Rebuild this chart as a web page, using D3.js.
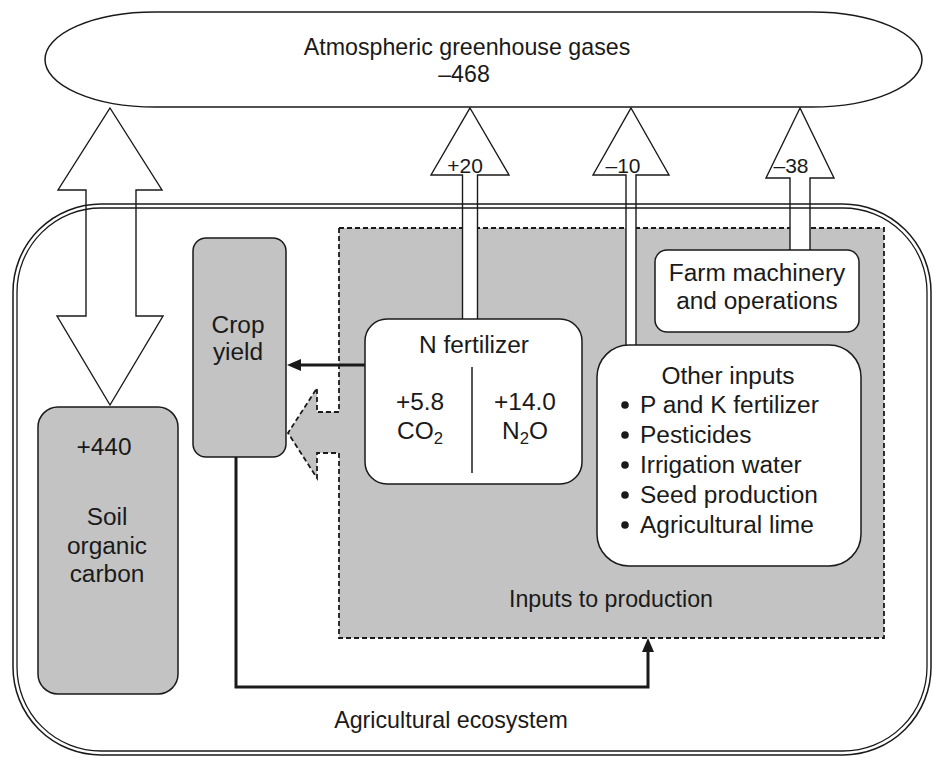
<!DOCTYPE html>
<html>
<head>
<meta charset="utf-8">
<script src="https://cdn.jsdelivr.net/npm/d3@7"></script>
<style>
  body { margin: 0; background: #fff; }
  text { font-family: "Liberation Sans", Arial, sans-serif; fill: #1a1a1a; }
</style>
</head>
<body>
<div id="graph"></div>
<script>
// text / values of the diagram
var atmosphereText = ["Atmospheric greenhouse gases", "–468"]
var fluxLabels = ["+20", "–10", "–38"]          // N fertilizer, other inputs, machinery
var soilText = ["+440", "Soil", "organic", "carbon"]
var cropText = ["Crop", "yield"]
var nFertTitle = "N fertilizer"
var nFertValues = ["+5.8", "+14.0"]
var nFertGases = [["CO", "2", ""], ["N", "2", "O"]]
var machineryText = ["Farm machinery", "and operations"]
var otherTitle = "Other inputs"
var otherInputs = ["P and K fertilizer", "Pesticides", "Irrigation water", "Seed production", "Agricultural lime"]
var inputsLabel = "Inputs to production"
var ecosystemLabel = "Agricultural ecosystem"

var w = 934, h = 758
var grey = "#c3c3c3", ink = "#1a1a1a"

var svg = d3.select('#graph')
  .append('svg')
  .attr("width", w)
  .attr("height", h)

// box lettering is a touch wider than the free labels
var boxFont = {size: 23.5, sx: 1.04}
var freeFont = {size: 23, sx: 1.01}
var arrowFont = {size: 20, sx: 1.05}

function label(str, x, y, f, anchor) {
  return svg.append("text")
    .attr("transform", "translate(" + x + "," + y + ") scale(" + f.sx + ",1)")
    .attr("text-anchor", anchor || "middle")
    .attr("font-size", f.size)
    .text(str)
}

function box(x, y, bw, bh, r, fill) {
  return svg.append("rect")
    .attr("x", x).attr("y", y)
    .attr("width", bw).attr("height", bh)
    .attr("rx", r)
    .style("fill", fill)
    .style("stroke", ink)
    .style("stroke-width", 1.5)
}

var line = d3.line()

// atmosphere
svg.append("rect")
  .attr("x", 45).attr("y", 12).attr("width", 877).attr("height", 95)
  .attr("rx", 110).attr("ry", 47.5)
  .style("fill", "#fff").style("stroke", ink).style("stroke-width", 1.5)

// inputs to production (dashed) with the dashed block arrow towards crop yield
var inputsPath = [[339, 228], [884, 228], [884, 638], [339, 638], [339, 453], [317, 453],
  [317, 478], [288, 433], [317, 388], [317, 412], [339, 412]]
svg.append("path")
  .attr("d", line(inputsPath) + "Z")
  .style("fill", grey).style("stroke", ink)
  .style("stroke-width", 1.8).style("stroke-dasharray", "5,3")

// crop yield + soil carbon
box(193, 238, 93, 219, 13, grey)
box(38, 407, 140, 287, 20, grey)

// crop yield -> inputs loop
svg.append("path")
  .attr("d", line([[236, 457], [236, 687], [648, 687], [648, 648]]))
  .style("fill", "none").style("stroke", ink).style("stroke-width", 3)
svg.append("path")
  .attr("d", line([[648, 638], [654, 652], [642, 652]]) + "Z")
  .style("fill", ink)

// N fertilizer -> crop yield
svg.append("path")
  .attr("d", line([[365, 365], [298, 365]]))
  .style("fill", "none").style("stroke", ink).style("stroke-width", 3)
svg.append("path")
  .attr("d", line([[287, 365], [301, 359], [301, 371]]) + "Z")
  .style("fill", ink)

// big two-way soil carbon arrow
var soilArrow = [[110, 108], [162, 190], [136, 190], [136, 316], [163, 316], [110, 405],
  [57, 316], [86, 316], [86, 190], [58, 190]]
svg.append("path")
  .attr("d", line(soilArrow) + "Z")
  .style("fill", "#fff").style("stroke", ink).style("stroke-width", 1.4)

// emission arrows: tip x, head half width, head base, shaft half width, shaft end, label x
var emission = [
  {cx: 470, half: 39, base: 175, shaft: 7.5, end: 322, lx: 465},
  {cx: 631, half: 38, base: 175, shaft: 5, end: 350, lx: 623},
  {cx: 800, half: 34, base: 178, shaft: 10, end: 252, lx: 791}
]
emission.forEach(function(d, i) {
  var pts = [[d.cx, 108], [d.cx + d.half, d.base], [d.cx + d.shaft, d.base], [d.cx + d.shaft, d.end],
    [d.cx - d.shaft, d.end], [d.cx - d.shaft, d.base], [d.cx - d.half, d.base]]
  svg.append("path")
    .attr("d", line(pts) + "Z")
    .style("fill", "#fff").style("stroke", ink).style("stroke-width", 1.4)
  label(fluxLabels[i], d.lx, 173, arrowFont)
})

// agricultural ecosystem: double outline
svg.append("rect")
  .attr("x", 13).attr("y", 204).attr("width", 918).attr("height", 551).attr("rx", 88)
  .style("fill", "none").style("stroke", ink).style("stroke-width", 1.5)
svg.append("rect")
  .attr("x", 17).attr("y", 208).attr("width", 910).attr("height", 543).attr("rx", 84)
  .style("fill", "none").style("stroke", ink).style("stroke-width", 1.3)

// white boxes
box(365, 319, 217, 165, 22, "#fff")
box(655, 250, 204, 82, 12, "#fff")
box(597, 345, 264, 221, 32, "#fff")

svg.append("path")
  .attr("d", line([[472, 367], [472, 473]]))
  .style("stroke", ink).style("stroke-width", 1.5)

// texts
label(atmosphereText[0], 467, 55, freeFont)
label(atmosphereText[1], 464, 82, freeFont)

label(cropText[0], 238, 333, boxFont)
label(cropText[1], 238, 360, boxFont)

label(soilText[0], 104, 455, boxFont)
soilText.slice(1).forEach(function(t, i) { label(t, 107, 525 + i * 28.5, boxFont) })

label(nFertTitle, 474, 353, boxFont)
var gasX = [420, 525]
nFertValues.forEach(function(v, i) {
  label(v, gasX[i], 410, boxFont)
  var t = label(nFertGases[i][0], gasX[i], 439, boxFont)
  t.append("tspan").attr("font-size", 16).attr("dy", 5).text(nFertGases[i][1])
  if (nFertGases[i][2]) t.append("tspan").attr("dy", -5).text(nFertGases[i][2])
})

machineryText.forEach(function(t, i) { label(t, 757, 281 + i * 28, boxFont) })

label(otherTitle, 728, 384, boxFont)
otherInputs.forEach(function(t, i) {
  var y = 413 + i * 30
  svg.append("circle").attr("cx", 625).attr("cy", y - 8).attr("r", 3.8).style("fill", ink)
  label(t, 640, y, boxFont, "start")
})

label(inputsLabel, 611, 607, freeFont)
label(ecosystemLabel, 451, 728, freeFont)
</script>
</body>
</html>
